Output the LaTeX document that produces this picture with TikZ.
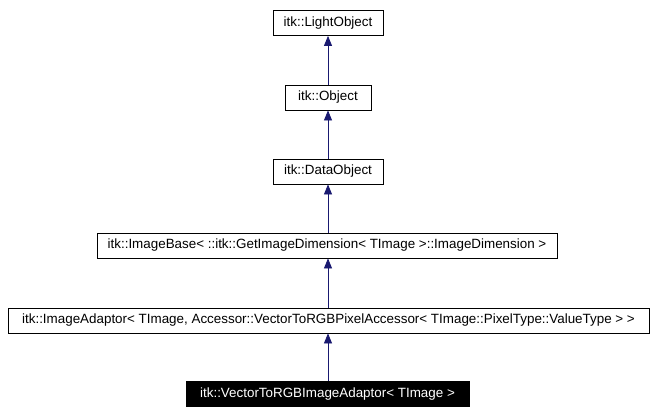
\documentclass[tikz,border=0pt]{standalone}
\usepackage{fontspec}
\setmainfont{Liberation Sans}
\usetikzlibrary{arrows.meta}
\definecolor{edge}{RGB}{25,25,112}
\begin{document}
\begin{tikzpicture}[x=1pt,y=-1pt,
  box/.style={draw=black,line width=0.8pt,fill=white,font=\fontsize{13.4}{15}\selectfont,inner sep=0pt,minimum height=25pt},
  conn/.style={draw=edge,line width=0.8pt,-{Triangle[length=10pt,width=8pt]}}]
\useasboundingbox (0,0) rectangle (655,415);
\node[box,minimum width=110pt] (lo) at (328,23) {itk::LightObject};
\node[box,minimum width=86pt] (ob) at (328,97.5) {itk::Object};
\node[box,minimum width=110pt] (do) at (328,171.5) {itk::DataObject};
\node[box,minimum width=460pt] (ib) at (327,245.5) {itk::ImageBase< ::itk::GetImageDimension< TImage >::ImageDimension >};
\node[box,minimum width=641pt] (ia) at (328.5,320.5) {itk::ImageAdaptor< TImage, Accessor::VectorToRGBPixelAccessor< TImage::PixelType::ValueType > >};
\node[box,fill=black,text=white,minimum width=283pt] (vr) at (327.5,394) {itk::VectorToRGBImageAdaptor< TImage >};
\draw[conn] (ob) -- (lo);
\draw[conn] (do) -- (ob);
\draw[conn] (ib.north -| do) -- (do);
\draw[conn] (ia.north -| do) -- (ib.south -| do);
\draw[conn] (vr.north -| do) -- (ia.south -| do);
\end{tikzpicture}
\end{document}
